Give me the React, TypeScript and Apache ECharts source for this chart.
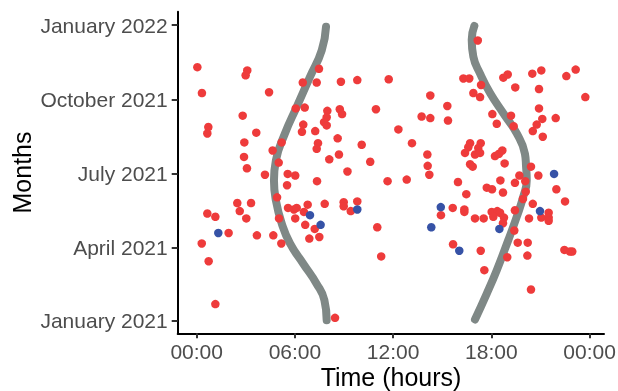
import React, { useEffect, useRef } from "react";
import * as echarts from "echarts";

// Days are counted from 1 January 2021 (day 0). Hours are time of day.
const yTickDays = [0, 90, 181, 273, 365];
const yTickLabels = ["January 2021", "April 2021", "July 2021", "October 2021", "January 2022"];
const xTickHours = [0, 6, 12, 18, 24];
const xTickLabels = ["00:00", "06:00", "12:00", "18:00", "00:00"];

// Sunrise curve [hour, day]
const sunrise: number[][] = [
  [7.94, 0], [7.8, 25], [7.33, 45], [6.51, 70], [5.7, 95], [5.19, 120], [4.84, 148],
  [4.72, 173], [4.84, 198], [5.39, 231], [6.11, 264], [6.92, 301], [7.64, 334], [7.9, 363],
];
// Sunset curve [hour, day]
const sunset: number[][] = [
  [17.0, 1], [17.72, 33], [18.33, 62], [19.03, 99], [19.55, 128], [19.95, 153], [20.16, 173],
  [20.12, 190], [20.05, 206], [19.55, 231], [18.73, 256], [17.92, 281], [17.31, 305],
  [16.9, 326], [16.8, 347], [16.96, 364],
];

// Red observations [hour, day]
const redPoints: number[][] = [
  [0.04, 313], [0.32, 281], [3.09, 309], [2.99, 303], [4.42, 282], [0.71, 239], [0.65, 231],
  [2.81, 253], [3.64, 232], [2.91, 220], [2.89, 202], [3.07, 188], [4.64, 210], [5.19, 220],
  [5.01, 195], [6.05, 262], [6.6, 263], [6.48, 294], [7.47, 311], [7.33, 294], [6.51, 242],
  [6.43, 233], [7.24, 234], [7.98, 259], [7.94, 251], [7.78, 245], [7.94, 241], [7.41, 219],
  [7.33, 212], [8.1, 199], [8.69, 205], [8.61, 225], [8.74, 261], [8.88, 255], [8.81, 295],
  [9.81, 297], [11.73, 298], [10.95, 261], [10.08, 217], [10.6, 196], [9.21, 184], [4.17, 180],
  [5.56, 181], [6.02, 179], [7.35, 172], [5.52, 167], [11.66, 172], [4.91, 152], [2.48, 145],
  [3.32, 145], [2.63, 135], [0.65, 132], [1.14, 128], [3.03, 126], [5.58, 139], [5.94, 137],
  [6.11, 139], [6.02, 126], [5.03, 126], [6.55, 134], [6.78, 143], [6.63, 118], [7.21, 113],
  [6.88, 101], [7.49, 103], [7.82, 144], [8.98, 146], [8.98, 141], [9.41, 135], [9.81, 147],
  [1.95, 108], [0.31, 95], [3.68, 105], [4.68, 105], [5.17, 95], [0.73, 73], [11.03, 115],
  [11.27, 79], [1.14, 20], [8.45, 3],
  [17.17, 346], [16.29, 299], [16.65, 299], [17.37, 291], [16.9, 281], [17.31, 276], [14.27, 278],
  [15.31, 265], [13.74, 252], [14.27, 250], [15.35, 247], [12.32, 236], [13.15, 219], [14.09, 205],
  [14.11, 191], [18.73, 300], [19.0, 304], [19.46, 288], [20.5, 305], [21.05, 309], [22.58, 302],
  [23.15, 310], [23.74, 276], [20.91, 286], [20.91, 262], [18.06, 255], [19.2, 253], [18.33, 243],
  [19.36, 240], [21.11, 249], [20.77, 242], [20.53, 234], [21.93, 250], [21.14, 227], [16.7, 219],
  [17.35, 219], [16.59, 214], [17.2, 213], [16.39, 207], [17.0, 205], [17.31, 207], [18.22, 203],
  [18.47, 206], [18.67, 210], [18.81, 194], [20.42, 190], [16.7, 193], [16.86, 190], [14.21, 180],
  [12.83, 174], [15.96, 171], [16.47, 156], [17.72, 164], [18.04, 162], [18.55, 173], [18.71, 158],
  [19.44, 170], [19.71, 179], [20.07, 172], [20.1, 159], [19.93, 150], [20.87, 179], [21.97, 162],
  [22.5, 147], [20.53, 144], [21.5, 133], [21.05, 127], [21.5, 127], [21.5, 123], [20.3, 126],
  [19.44, 136], [15.64, 139], [14.92, 130], [16.35, 137], [16.35, 134], [17.0, 126], [17.53, 126],
  [18.02, 134], [18.36, 135], [18.53, 133], [18.12, 128], [18.77, 127], [18.71, 120], [19.4, 111],
  [15.66, 94], [17.35, 86], [19.61, 96], [20.22, 96], [20.2, 80], [18.97, 78], [17.57, 62],
  [20.42, 38], [22.46, 87], [22.8, 85], [22.94, 85],
];

// Blue observations [hour, day]
const bluePoints: number[][] = [
  [6.92, 130], [7.57, 118], [9.81, 137], [1.32, 108], [21.83, 181], [20.97, 135], [14.91, 140],
  [18.49, 113], [14.33, 115], [16.04, 86],
];

const FONT = '"Liberation Sans", Arial, Helvetica, sans-serif';

export default function App() {
  const ref = useRef<HTMLDivElement>(null);
  useEffect(() => {
    if (!ref.current) return;
    const chart = echarts.init(ref.current, null, { renderer: "svg" });
    const lineStyle = { color: "#7f8886", width: 8, cap: "round" as const, join: "round" as const };
    chart.setOption({
      animation: false,
      grid: { left: 177.7, right: 14, top: 11.7, bottom: 57.7, containLabel: false, outerBoundsMode: "none" },
      xAxis: {
        type: "value",
        min: -1.16,
        max: 24.88,
        splitLine: { show: false },
        axisLine: { show: true, onZero: false, lineStyle: { color: "#000", width: 2 } },
        axisTick: { show: true, length: 5, customValues: xTickHours, lineStyle: { color: "#333", width: 2 } },
        axisLabel: {
          customValues: xTickHours,
          margin: 8,
          color: "#4d4d4d",
          fontSize: 21,
          fontFamily: FONT,
          formatter: (v: number) => xTickLabels[xTickHours.indexOf(Math.round(v))] ?? "",
        },
      },
      yAxis: {
        type: "value",
        min: -16.1,
        max: 381.6,
        splitLine: { show: false },
        axisLine: { show: true, onZero: false, lineStyle: { color: "#000", width: 2 } },
        axisTick: { show: true, length: 6, customValues: yTickDays, lineStyle: { color: "#333", width: 2 } },
        axisLabel: {
          customValues: yTickDays,
          margin: 10,
          color: "#4d4d4d",
          fontSize: 21,
          fontFamily: FONT,
          formatter: (v: number) => yTickLabels[yTickDays.indexOf(Math.round(v))] ?? "",
        },
      },
      graphic: [
        {
          type: "text",
          x: 391,
          y: 377,
          style: { text: "Time (hours)", fontSize: 25, fontFamily: FONT, fill: "#000", align: "center", verticalAlign: "middle" },
        },
        {
          type: "text",
          x: 22,
          y: 172.5,
          rotation: Math.PI / 2,
          style: { text: "Months", fontSize: 25, fontFamily: FONT, fill: "#000", align: "center", verticalAlign: "middle" },
        },
      ],
      series: [
        { type: "line", data: sunrise, smooth: 0.5, showSymbol: false, lineStyle, z: 1 },
        { type: "line", data: sunset, smooth: 0.5, showSymbol: false, lineStyle, z: 1 },
        { type: "scatter", data: redPoints, symbol: "circle", symbolSize: 8.5, itemStyle: { color: "#ee3b3b", opacity: 1 }, z: 2 },
        { type: "scatter", data: bluePoints, symbol: "circle", symbolSize: 8.5, itemStyle: { color: "#3652a6", opacity: 1 }, z: 3 },
      ],
    });
    return () => chart.dispose();
  }, []);
  return <div ref={ref} style={{ position: "fixed", left: 0, top: 0, width: 618, height: 391 }} />;
}
